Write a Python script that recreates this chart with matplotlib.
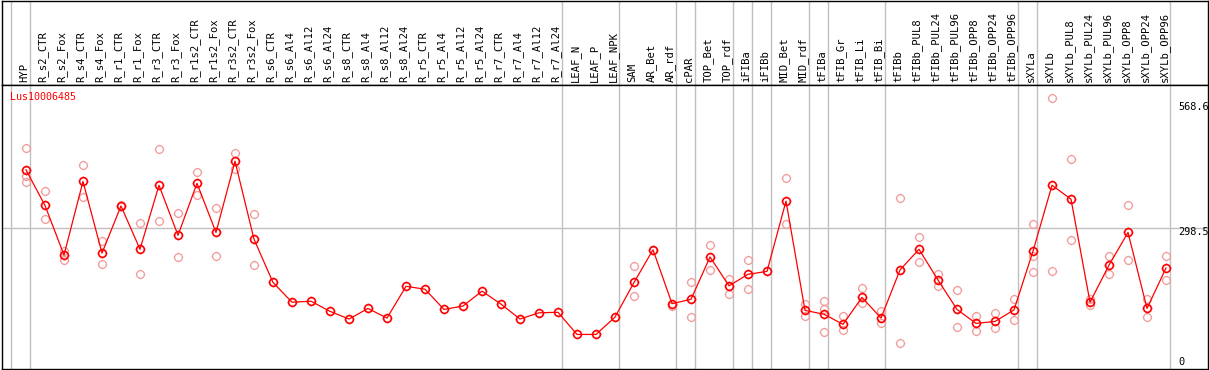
# Expression profile chart - Lus10006485
import numpy as np
import matplotlib
matplotlib.use("Agg")
import matplotlib.pyplot as plt
import matplotlib.path as mpath

# 1. Data
samples = [
    "HYP", "R_s2_CTR", "R_s2_Fox", "R_s4_CTR", "R_s4_Fox", "R_r1_CTR", "R_r1_Fox",
    "R_r3_CTR", "R_r3_Fox", "R_r1s2_CTR", "R_r1s2_Fox", "R_r3s2_CTR", "R_r3s2_Fox",
    "R_s6_CTR", "R_s6_Al4", "R_s6_Al12", "R_s6_Al24", "R_s8_CTR", "R_s8_Al4",
    "R_s8_Al12", "R_s8_Al24", "R_r5_CTR", "R_r5_Al4", "R_r5_Al12", "R_r5_Al24",
    "R_r7_CTR", "R_r7_Al4", "R_r7_Al12", "R_r7_Al24", "LEAF_N", "LEAF_P", "LEAF_NPK",
    "SAM", "AR_Bet", "AR_rdf", "cPAR", "TOP_Bet", "TOP_rdf", "iFIBa", "iFIBb",
    "MID_Bet", "MID_rdf", "tFIBa", "tFIB_Gr", "tFIB_Li", "tFIB_Bi", "tFIBb",
    "tFIBb_PUL8", "tFIBb_PUL24", "tFIBb_PUL96", "tFIBb_OPP8", "tFIBb_OPP24",
    "tFIBb_OPP96", "sXYLa", "sXYLb", "sXYLb_PUL8", "sXYLb_PUL24", "sXYLb_PUL96",
    "sXYLb_OPP8", "sXYLb_OPP24", "sXYLb_OPP96",
]

mean_expr = [
    420, 346, 243, 396, 247, 345, 255, 388, 284, 392, 290, 438, 276,
    186, 145, 147, 126, 110, 132, 112, 178, 172, 130, 137, 168,
    141, 110, 123, 124, 78, 78, 114,
    186, 254, 142, 151, 239, 179, 203, 209, 355, 128,
    120, 99, 155, 112, 212, 255, 191, 130, 101, 105, 129,
    251, 388, 359, 145, 222, 290, 132, 216,
]

replicates = [
    [465, 407, 394], [376, 318], [251, 233], [430, 364], [272, 224], [348],
    [309, 204], [463, 313], [330, 238], [415, 367], [340, 240], [455, 421],
    [328, 222],
    [], [], [], [], [], [], [], [], [], [], [], [], [], [], [], [], [], [], [],
    [220, 158], [254], [138], [186, 114], [263, 211], [193, 163], [233, 172], [],
    [404, 307], [141, 116], [147, 130, 83], [116, 87], [174, 144], [127, 102],
    [361, 60], [280, 229], [204, 179], [170, 93], [116, 86], [122, 91], [151, 108],
    [307, 241, 207], [569, 209], [442, 274], [151, 139], [241, 203], [348, 232],
    [152, 114], [241, 191],
]

# last sample index of each group (separator lines)
group_ends = [-1, 0, 28, 31, 34, 35, 37, 38, 39, 41, 42, 45, 52, 53, 60]

y_ticks = [568.6, 298.5]

# 2. Marker: circle with small ticks
circ = mpath.Path.unit_circle()
verts = list(circ.vertices)
codes = list(circ.codes)
for dx, dy in [(0, 1), (0, -1), (1, 0), (-1, 0)]:
    verts += [(dx, dy), (dx * 1.22, dy * 1.22)]
    codes += [mpath.Path.MOVETO, mpath.Path.LINETO]
tick_circle = mpath.Path(verts, codes)
msize = 6.8

# 3. Figure layout
W, H = 1209, 370
fig = plt.figure(figsize=(W / 100, H / 100), dpi=100)
ax_lab = fig.add_axes([2 / W, (H - 85) / H, 1206 / W, 85 / H - 0.5 / H])
ax = fig.add_axes([2 / W, 1 / H, 1206 / W, 284 / H])

x = np.arange(len(samples))
xlim = (-1.263, 62.21)
grey = "#c0c0c0"
mono = "DejaVu Sans Mono"

for a in (ax, ax_lab):
    a.set_xlim(*xlim)
    a.set_xticks([])
    a.set_yticks([])
    for s in a.spines.values():
        s.set_color("black")
        s.set_linewidth(1.0)
    for g in group_ends:
        a.axvline(g + 0.22, color=grey, lw=1.0, zorder=0)

ax_lab.set_ylim(0, 1)
ax.set_ylim(6.2, 596.3)
ax.axhline(298.5, color=grey, lw=1.0, zorder=0)

# 4. Sample labels
for i, name in enumerate(samples):
    ax_lab.text(i - 0.1, 0.03, name, rotation=90, ha="center", va="bottom",
                fontsize=7.6, family=mono, color="black")

# 5. Replicates, mean line and markers
for i, reps in enumerate(replicates):
    if reps:
        ax.plot([i] * len(reps), reps, linestyle="none", marker=tick_circle,
                markersize=msize, markerfacecolor="none", markeredgecolor="#f09a9a",
                markeredgewidth=0.9, zorder=2)

ax.plot(x, mean_expr, color="red", lw=0.9, zorder=3)
ax.plot(x, mean_expr, linestyle="none", marker=tick_circle, markersize=msize,
        markerfacecolor="none", markeredgecolor="red", markeredgewidth=1.2, zorder=4)

# 6. Texts
ax.text(8 / 1206, (369 - 97) / 284, "Lus10006485", transform=ax.transAxes,
        ha="left", va="center", fontsize=7.2, family=mono, color="red")

xr = (1178 - 2) / 1206
ax.text(xr, (369 - 107) / 284, "%.1f" % y_ticks[0], transform=ax.transAxes,
        ha="left", va="center", fontsize=7.4, family=mono)
ax.text(xr, (369 - 232) / 284, "%.1f" % y_ticks[1], transform=ax.transAxes,
        ha="left", va="center", fontsize=7.4, family=mono)
ax.text(xr, (369 - 362) / 284, "0", transform=ax.transAxes,
        ha="left", va="center", fontsize=7.4, family=mono)

fig.savefig("out.png", dpi=100)
